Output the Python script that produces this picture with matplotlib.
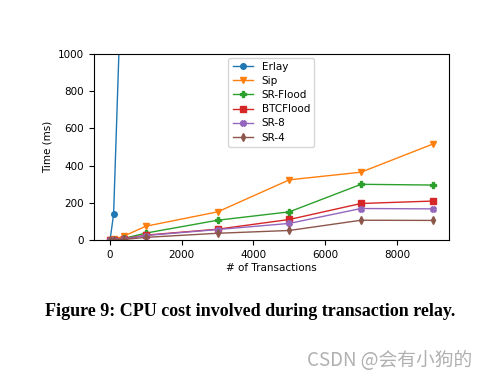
import matplotlib
matplotlib.use('Agg')
from matplotlib import pyplot as plt

# transactions on the x axis
tx = [0, 100, 400, 1000, 3000, 5000, 7000, 9000]
tx_erlay = [0, 100, 400]

erlay = [0, 140, 1900]
sip = [0, 5, 23, 75, 152, 324, 365, 516]
sr_flood = [0, 3, 10, 38, 107, 152, 300, 296]
btc_flood = [0, 2, 8, 27, 59, 111, 197, 210]
sr_8 = [0, 2, 6, 25, 57, 90, 170, 168]
sr_4 = [0, 1, 4, 15, 37, 52, 107, 106]

plt.rcParams['font.size'] = 7.5

fig = plt.figure(figsize=(4.89, 3.80), dpi=100)
ax = fig.add_axes([0.192, 0.368, 0.726, 0.490])

ms = 4
ax.plot(tx_erlay, erlay, marker='o', markersize=ms, lw=1, label='Erlay')
ax.plot(tx, sip, marker='v', markersize=ms, lw=1, label='Sip')
ax.plot(tx, sr_flood, marker='P', markersize=ms, lw=1, label='SR-Flood')
ax.plot(tx, btc_flood, marker='s', markersize=ms, lw=1, label='BTCFlood')
ax.plot(tx, sr_8, marker='X', markersize=ms, lw=1, label='SR-8')
ax.plot(tx, sr_4, marker='d', markersize=ms, lw=1, label='SR-4')

ax.set_xlim(-450, 9450)
ax.set_ylim(0, 1000)
ax.set_xticks([0, 2000, 4000, 6000, 8000])
ax.set_xlabel('# of Transactions', labelpad=2)
ax.set_ylabel('Time (ms)')
ax.legend(loc='upper center', fontsize=7.5, labelspacing=0.4,
          borderaxespad=0.35)

fig.text(0.512, 0.179, 'Figure 9: CPU cost involved during transaction relay.',
         ha='center', va='center', family='Liberation Serif',
         fontweight='bold', fontsize=13)
fig.text(0.966, 0.05, 'CSDN @会有小狗的', ha='right', va='center',
         family=['Noto Sans CJK SC', 'DejaVu Sans'], color='#b0b0b0',
         fontsize=13.5, fontweight='light')

plt.savefig('out.png', dpi=100)
